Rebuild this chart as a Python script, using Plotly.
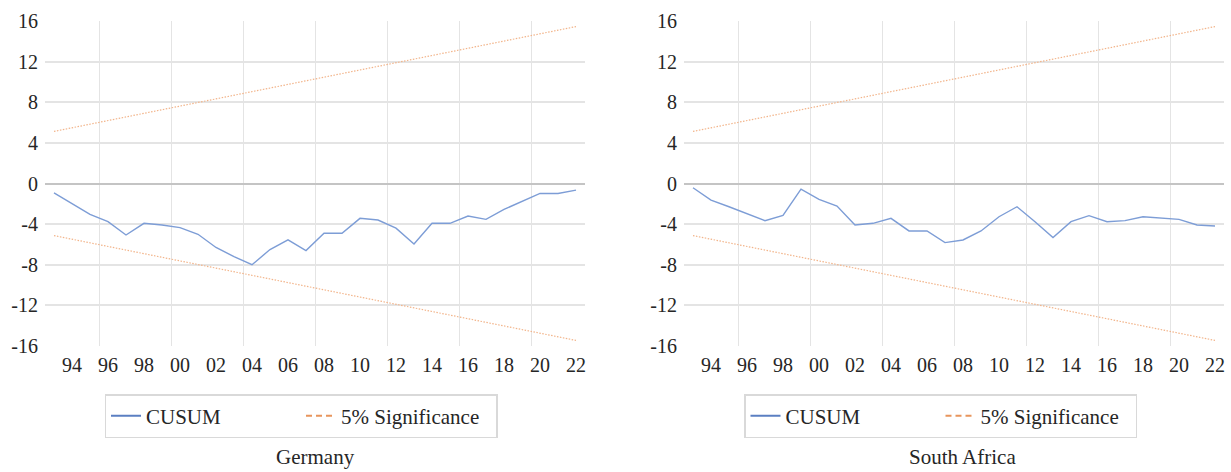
import plotly.graph_objects as go

years = list(range(1993, 2023))

germany_cusum = [-0.92, -2.0, -3.04, -3.76, -5.07, -3.92, -4.08, -4.35, -5.0, -6.3,
                 -7.2, -8.0, -6.5, -5.55, -6.6, -4.9, -4.9, -3.43, -3.6, -4.4,
                 -5.95, -3.92, -3.92, -3.2, -3.53, -2.55, -1.8, -0.98, -0.98, -0.65]

safrica_cusum = [-0.42, -1.63, -2.29, -2.94, -3.66, -3.14, -0.56, -1.57, -2.22, -4.08,
                 -3.92, -3.43, -4.67, -4.67, -5.82, -5.56, -4.67, -3.27, -2.29, -3.76,
                 -5.33, -3.76, -3.17, -3.76, -3.66, -3.27, -3.43, -3.53, -4.08, -4.18]

sig_years = [1993, 2022]
germany_upper = [5.13, 15.45]
germany_lower = [-5.13, -15.45]
safrica_upper = [5.13, 15.45]
safrica_lower = [-5.13, -15.45]

x_tick_years = list(range(1994, 2023, 2))
x_tick_text = [str(y)[-2:] for y in x_tick_years]
x_grid_years = [1995.5, 1999.5, 2003.5, 2007.5, 2011.5, 2015.5, 2019.5]
y_ticks = [-16, -12, -8, -4, 0, 4, 8, 12, 16]
y_grid = [-12, -8, -4, 4, 8, 12]

titles = ["Germany", "South Africa"]

FONT = "Liberation Serif"
TXT = "#262626"
BLUE_PLOT = "#7d9dd6"
BLUE_LEG = "#5b7fc2"
ORANGE_PLOT = "#f2b48a"
ORANGE_LEG = "#e8955c"
GRID = "#e4e4e4"

fig = go.Figure()

panels = [
    ("x", "y", "legend", germany_cusum, germany_upper, germany_lower),
    ("x2", "y2", "legend2", safrica_cusum, safrica_upper, safrica_lower),
]

for xa, ya, leg, cus, up, lo in panels:
    fig.add_trace(go.Scatter(x=years, y=cus, mode="lines", xaxis=xa, yaxis=ya,
                             line=dict(color=BLUE_PLOT, width=1.4), showlegend=False))
    fig.add_trace(go.Scatter(x=sig_years, y=up, mode="lines", xaxis=xa, yaxis=ya,
                             line=dict(color=ORANGE_PLOT, width=1.2, dash="1.5px,1.5px"), showlegend=False))
    fig.add_trace(go.Scatter(x=sig_years, y=lo, mode="lines", xaxis=xa, yaxis=ya,
                             line=dict(color=ORANGE_PLOT, width=1.2, dash="1.5px,1.5px"), showlegend=False))
    # legend-only entries
    fig.add_trace(go.Scatter(x=[None], y=[None], mode="lines", xaxis=xa, yaxis=ya,
                             line=dict(color=BLUE_LEG, width=2), name="CUSUM", legend=leg))
    fig.add_trace(go.Scatter(x=[None], y=[None], mode="lines", xaxis=xa, yaxis=ya,
                             line=dict(color=ORANGE_LEG, width=2, dash="6px,4px"),
                             name="5% Significance", legend=leg))

W, H = 1231, 472
domains_x = [[45 / W, 585 / W], [684 / W, 1224 / W]]
dom_y = [1 - 346 / H, 1 - 21 / H]

xaxis_common = dict(
    range=[1992.5, 2022.5], tickmode="array", tickvals=x_tick_years, ticktext=x_tick_text,
    showgrid=False, zeroline=False, showline=False, ticks="", automargin=False,
    tickfont=dict(family=FONT, size=20, color=TXT), ticklabelstandoff=5,
    minor=dict(tickmode="array", tickvals=x_grid_years, showgrid=True, gridcolor=GRID, gridwidth=1, ticks=""),
    fixedrange=True,
)
yaxis_common = dict(
    range=[-16, 16], tickmode="array", tickvals=y_ticks, ticktext=[str(v) for v in y_ticks],
    showgrid=False, zeroline=True, zerolinecolor="#c4c4c4", zerolinewidth=1.5, showline=False, ticks="",
    automargin=False,
    tickfont=dict(family=FONT, size=20, color=TXT), ticklabelstandoff=6,
    minor=dict(tickmode="array", tickvals=y_grid, showgrid=True, gridcolor=GRID, gridwidth=1.5, ticks=""),
    fixedrange=True,
)

legend_common = dict(orientation="h", y=1 - 416 / H, xanchor="center", yanchor="middle",
                     bordercolor="#d9d9d9", borderwidth=1.5, bgcolor="white",
                     font=dict(family=FONT, size=21, color=TXT),
                     entrywidth=150, entrywidthmode="pixels")

fig.update_layout(
    width=W, height=H,
    margin=dict(l=0, r=0, t=0, b=0, autoexpand=False),
    paper_bgcolor="white", plot_bgcolor="white",
    font=dict(family=FONT, size=20, color=TXT),
    xaxis=dict(domain=domains_x[0], anchor="y", **xaxis_common),
    yaxis=dict(domain=dom_y, anchor="x", **yaxis_common),
    xaxis2=dict(domain=domains_x[1], anchor="y2", **xaxis_common),
    yaxis2=dict(domain=dom_y, anchor="x2", **yaxis_common),
    legend=dict(x=(105 + 497) / 2 / W, **legend_common),
    legend2=dict(x=(744 + 1137) / 2 / W, **legend_common),
    annotations=[
        dict(text=titles[0], x=315 / W, y=1 - 457 / H, xref="paper", yref="paper",
             showarrow=False, xanchor="center", yanchor="middle",
             font=dict(family=FONT, size=21, color=TXT)),
        dict(text=titles[1], x=963 / W, y=1 - 457 / H, xref="paper", yref="paper",
             showarrow=False, xanchor="center", yanchor="middle",
             font=dict(family=FONT, size=21, color=TXT)),
    ],
)

fig.write_html("out.html", config={"displayModeBar": False},
               post_script="document.body.style.margin='0px';document.body.style.overflow='hidden';")
